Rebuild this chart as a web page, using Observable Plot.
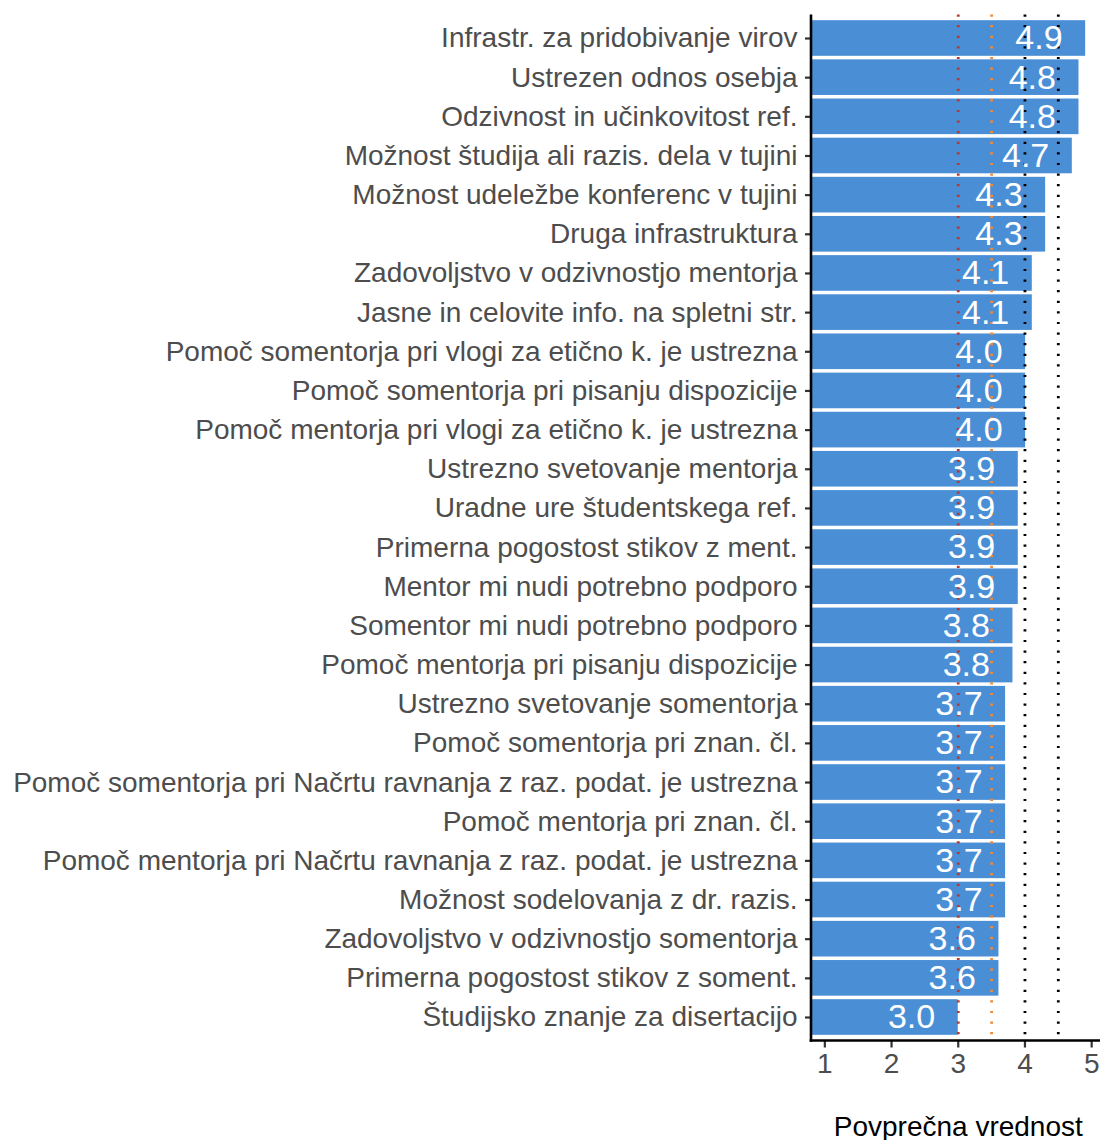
<!DOCTYPE html>
<html><head><meta charset="utf-8">
<script src="https://cdn.jsdelivr.net/npm/d3@7"></script>
<script src="https://cdn.jsdelivr.net/npm/@observablehq/plot@0.6"></script>
<style>body{margin:0;background:#fff;}</style>
</head><body><div id="chart"></div>
<script>
const categories = [
  "Infrastr. za pridobivanje virov",
  "Ustrezen odnos osebja",
  "Odzivnost in učinkovitost ref.",
  "Možnost študija ali razis. dela v tujini",
  "Možnost udeležbe konferenc v tujini",
  "Druga infrastruktura",
  "Zadovoljstvo v odzivnostjo mentorja",
  "Jasne in celovite info. na spletni str.",
  "Pomoč somentorja pri vlogi za etično k. je ustrezna",
  "Pomoč somentorja pri pisanju dispozicije",
  "Pomoč mentorja pri vlogi za etično k. je ustrezna",
  "Ustrezno svetovanje mentorja",
  "Uradne ure študentskega ref.",
  "Primerna pogostost stikov z ment.",
  "Mentor mi nudi potrebno podporo",
  "Somentor mi nudi potrebno podporo",
  "Pomoč mentorja pri pisanju dispozicije",
  "Ustrezno svetovanje somentorja",
  "Pomoč somentorja pri znan. čl.",
  "Pomoč somentorja pri Načrtu ravnanja z raz. podat. je ustrezna",
  "Pomoč mentorja pri znan. čl.",
  "Pomoč mentorja pri Načrtu ravnanja z raz. podat. je ustrezna",
  "Možnost sodelovanja z dr. razis.",
  "Zadovoljstvo v odzivnostjo somentorja",
  "Primerna pogostost stikov z soment.",
  "Študijsko znanje za disertacijo"
];
const values = [
  4.91, 4.81, 4.81, 4.71, 4.31, 4.31, 4.11, 4.11, 4.01, 4.01, 4.01,
  3.90, 3.90, 3.90, 3.90, 3.82, 3.82,
  3.71, 3.71, 3.71, 3.71, 3.71, 3.71, 3.61, 3.61, 3.00
];
const referenceValues = [3, 3.5, 4, 4.5];
const referenceColors = ["#b8392b", "#f28a3a", "#000000", "#000000"];
const xTicks = [1, 2, 3, 4, 5];
const xTitle = "Povprečna vrednost";

const data = categories.map((c, i) => ({category: c, value: values[i]}));
const refs = referenceValues.map((v, i) => ({x: v, color: referenceColors[i]}));

const axisLines = (index, scales, values, dims) => {
  const g = d3.create("svg:g");
  const x0 = dims.marginLeft, x1 = dims.width - dims.marginRight;
  const y0 = dims.marginTop, y1 = dims.height - dims.marginBottom;
  g.append("line").attr("x1", x0).attr("x2", x0).attr("y1", y0).attr("y2", y1 + 1.2)
    .attr("stroke", "#000").attr("stroke-width", 2.6);
  g.append("line").attr("x1", x0 - 1.3).attr("x2", x1).attr("y1", y1).attr("y2", y1)
    .attr("stroke", "#000").attr("stroke-width", 2.6);
  return g.node();
};

const plot = Plot.plot({
  width: 1100,
  height: 1140,
  marginLeft: 811,
  marginRight: -4.5,
  marginTop: 14.5,
  marginBottom: 99.5,
  style: {fontFamily: "'Liberation Sans', Arial, sans-serif", background: "white"},
  x: {domain: [0.8, 5.2], range: [811, 1104.5]},
  y: {domain: categories, range: [14.5, 1040.5], paddingInner: 0.09, paddingOuter: 0.145, round: false},
  marks: [
    Plot.barX(data, {x1: 0, x2: "value", y: "category", fill: "#4a8fd6", clip: true}),
    Plot.ruleX(refs, {x: "x", stroke: "color", strokeWidth: 2.8, strokeDasharray: "2.2,8.4"}),
    Plot.text(data, {x: d => d.value - 0.7, y: "category", text: d => d.value.toFixed(1),
      fill: "white", fontSize: 34}),
    Plot.axisY({text: null, tickSize: 6, stroke: "#333333", strokeWidth: 2.2, label: null}),
    Plot.axisY({tickSize: 0, tickPadding: 14, fontSize: 28, fill: "#4d4d4d", label: null}),
    Plot.axisX({ticks: xTicks, text: null, tickSize: 7, stroke: "#333333", strokeWidth: 2.2, label: null}),
    Plot.axisX({ticks: xTicks, tickFormat: d3.format("d"), tickSize: 0, tickPadding: 12, fontSize: 28, fill: "#4d4d4d", label: null}),
    Plot.text([xTitle], {frameAnchor: "bottom", lineAnchor: "middle", dy: 86, text: d => d, fontSize: 28, fill: "#000"}),
    axisLines
  ]
});
document.getElementById("chart").appendChild(plot);
</script>
</body></html>
